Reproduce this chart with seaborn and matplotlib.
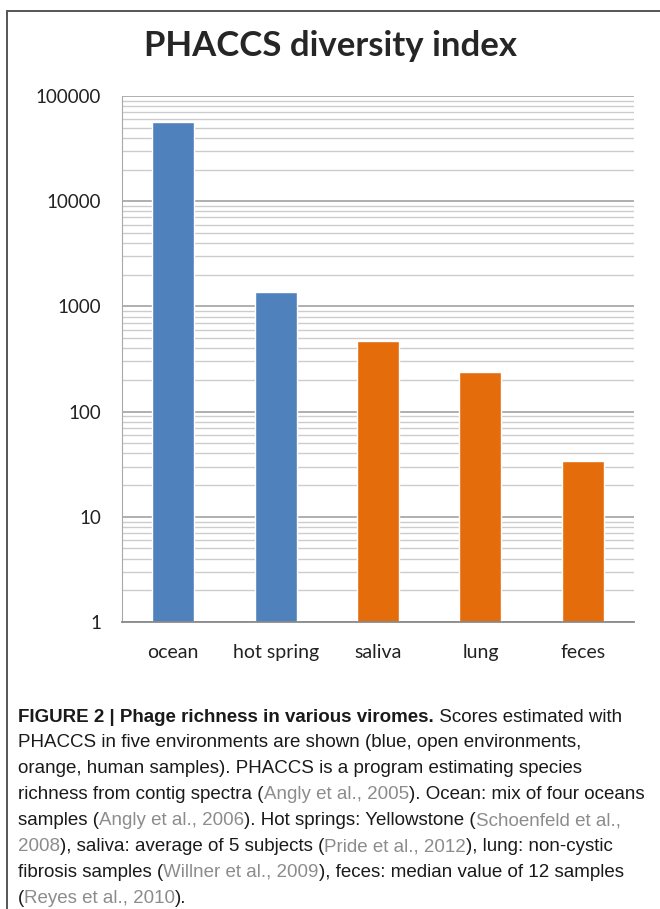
import matplotlib
matplotlib.use("Agg")
import matplotlib.pyplot as plt
import seaborn as sns
import pandas as pd
from matplotlib.ticker import LogLocator, FixedLocator, NullFormatter
from matplotlib.lines import Line2D

# data
environments = ["ocean", "hot spring", "saliva", "lung", "feces"]
richness = [56600, 1380, 470, 240, 34]
group = ["open", "open", "human", "human", "human"]
ytick_values = [1, 10, 100, 1000, 10000, 100000]
ytick_labels = ["1", "10", "100", "1000", "10000", "100000"]

colors = {"open": "#4F81BD", "human": "#E46C0A"}

df = pd.DataFrame({"environment": environments, "richness": richness, "group": group})

sns.set_style("white")
plt.rcParams["font.family"] = ["Lato", "DejaVu Sans"]

fig = plt.figure(figsize=(6.6, 9.09), dpi=100)
ax = fig.add_axes([122 / 660, 1 - 622 / 909, (634 - 122) / 660, (622 - 96) / 909])

sns.barplot(data=df, x="environment", y="richness", hue="group", palette=colors,
            dodge=False, width=0.41, legend=False, ax=ax, saturation=1)
ax.set_yscale("log")
ax.set_ylim(1, 100000)
ax.set_xlim(-0.5, 4.5)

ax.yaxis.set_major_locator(FixedLocator(ytick_values))
ax.set_yticklabels(ytick_labels)
ax.yaxis.set_minor_locator(LogLocator(base=10, subs=range(2, 10)))
ax.yaxis.set_minor_formatter(NullFormatter())
ax.grid(True, which="major", axis="y", color="#9a9a9a", linewidth=1.1)
ax.grid(True, which="minor", axis="y", color="#cccccc", linewidth=1.0)
ax.set_axisbelow(True)
ax.tick_params(axis="both", which="both", length=0)
ax.tick_params(axis="y", pad=15, labelsize=13.5, labelcolor="#222222")
ax.tick_params(axis="x", pad=16, labelsize=14, labelcolor="#222222")
ax.set_xlabel("")
ax.set_ylabel("")
for side in ["top", "right"]:
    ax.spines[side].set_visible(False)
ax.spines["left"].set_color("#a8a8a8")
ax.spines["bottom"].set_color("#8a8a8a")
ax.spines["bottom"].set_linewidth(1.3)

fig.text(0.5, 1 - 46 / 909, "PHACCS diversity index", ha="center", va="center",
         fontsize=25, fontweight="bold", family=["Lato", "DejaVu Sans"])

# frame around the figure panel
fig.add_artist(Line2D([7 / 660, 7 / 660], [0, 1 - 11 / 909], transform=fig.transFigure,
                      color="#555555", linewidth=1.4))
fig.add_artist(Line2D([7 / 660, 1], [1 - 11 / 909, 1 - 11 / 909], transform=fig.transFigure,
                      color="#555555", linewidth=1.4))

# caption, with citations in grey
caption = [
    [("FIGURE 2 | Phage richness in various viromes.", "b"), (" Scores estimated with", "n")],
    [("PHACCS in five environments are shown (blue, open environments,", "n")],
    [("orange, human samples). PHACCS is a program estimating species", "n")],
    [("richness from contig spectra (", "n"), ("Angly et al., 2005", "g"), ("). Ocean: mix of four oceans", "n")],
    [("samples (", "n"), ("Angly et al., 2006", "g"), ("). Hot springs: Yellowstone (", "n"), ("Schoenfeld et al.,", "g")],
    [("2008", "g"), ("), saliva: average of 5 subjects (", "n"), ("Pride et al., 2012", "g"), ("), lung: non-cystic", "n")],
    [("fibrosis samples (", "n"), ("Willner et al., 2009", "g"), ("), feces: median value of 12 samples", "n")],
    [("(", "n"), ("Reyes et al., 2010", "g"), (").", "n")],
]
cap_font = ["Liberation Sans Narrow", "Liberation Sans", "DejaVu Sans"]
renderer = fig.canvas.get_renderer()

# pick a size so the longest line spans about 627 px
probe = fig.text(0, 0, "richness from contig spectra (Angly et al., 2005). Ocean: mix of four oceans",
                 fontsize=12, family=cap_font)
w = probe.get_window_extent(renderer).width
probe.remove()
cap_size = 12 * 627 / w

x0 = 18
for i, line in enumerate(caption):
    y = 717 + i * 25.9
    x = x0
    for seg, style in line:
        t = fig.text(x / 660, 1 - y / 909, seg, fontsize=cap_size, family=cap_font,
                     va="center", ha="left",
                     fontweight="bold" if style == "b" else "normal",
                     color="#8c8c8c" if style == "g" else "#1a1a1a")
        x += t.get_window_extent(renderer).width

fig.savefig("out.png", dpi=100)
